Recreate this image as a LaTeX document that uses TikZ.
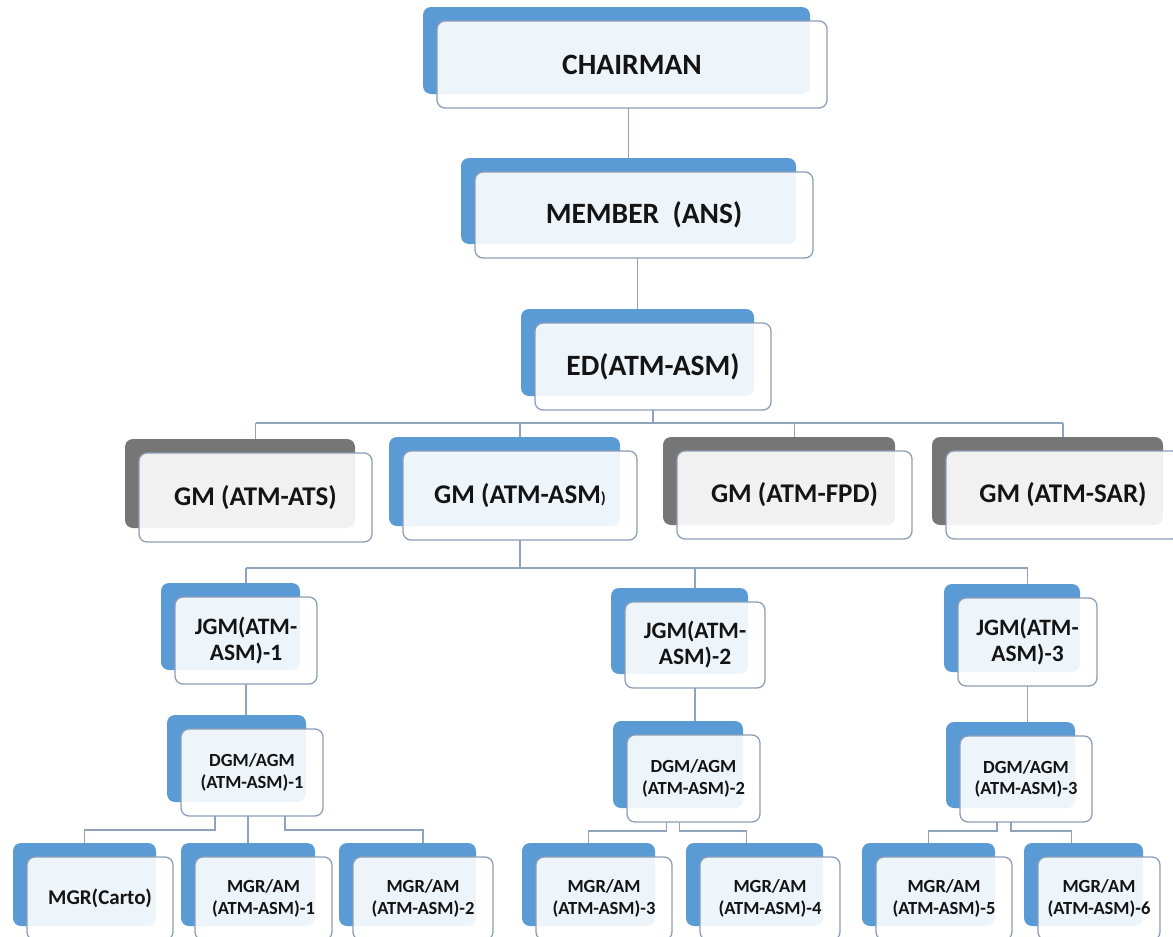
\documentclass[tikz,border=0pt]{standalone}
\usepackage{fontspec}
\setmainfont{Carlito}
\usetikzlibrary{calc}

\definecolor{cardblue}{HTML}{5B9BD5}
\definecolor{cardgray}{HTML}{767676}
\definecolor{rim}{HTML}{8C9DB5}
\definecolor{wire}{HTML}{8FA3BD}
\definecolor{ink}{HTML}{141414}

\tikzset{
  backbox/.style={rectangle, rounded corners=8pt, inner sep=0pt, outer sep=0pt, draw=none},
  frontbox/.style={rectangle, rounded corners=8pt, inner sep=0pt, outer sep=0pt,
    draw=rim, line width=1.3pt, fill=white, fill opacity=0.9, text opacity=1,
    text=ink, align=center},
  wireline/.style={draw=wire, line width=1.3pt},
  tbig/.style={font=\fontsize{29.5}{33}\selectfont\bfseries},
  tgm/.style={font=\fontsize{27}{31}\selectfont\bfseries},
  tjgm/.style={font=\fontsize{23.5}{26}\selectfont\bfseries},
  tcarto/.style={font=\fontsize{21}{24}\selectfont\bfseries},
  tsmall/.style={font=\fontsize{18.5}{21.5}\selectfont\bfseries},
}

% \card{name}{x1}{y1}{x2}{y2}{back colour}{text style}{label}
% draws a coloured back plate and the framed front box over it
\newcommand\card[8]{%
  \node[backbox, fill=#6, minimum width={(#4-#2-3)*1pt}, minimum height={(#5-#3)*1pt}]
    (#1B) at ({(#2+#4)/2-15.5},{(#3+#5)/2-14}) {};
  \node[frontbox, #7, minimum width={(#4-#2)*1pt}, minimum height={(#5-#3)*1pt}]
    (#1F) at ({(#2+#4)/2},{(#3+#5)/2}) {#8};
}

\begin{document}
\begin{tikzpicture}[x=1pt, y=-1pt]
\useasboundingbox (0,0) rectangle (1173,937);
\clip (0,0) rectangle (1173,937);

% ---- cards ----
\card{chair}{437}{21}{827}{108}{cardblue}{tbig}{CHAIRMAN}
\card{member}{475}{172}{813}{258}{cardblue}{tbig}{MEMBER~~(ANS)}
\card{ed}{535}{323}{771}{410}{cardblue}{tbig}{ED(ATM-ASM)}

\card{ats}{139}{453}{372}{542}{cardgray}{tgm}{GM (ATM-ATS)}
\card{asm}{403}{451}{637}{540}{cardblue}{tgm}{GM (ATM-ASM{\fontsize{16}{18}\selectfont)}}
\card{fpd}{677}{451}{912}{539}{cardgray}{tgm}{GM (ATM-FPD)}
\card{sar}{946}{451}{1180}{539}{cardgray}{tgm}{GM (ATM-SAR)}

\card{jgma}{175}{597}{317}{684}{cardblue}{tjgm}{JGM(ATM-\\ASM)-1}
\card{jgmb}{625}{602}{765}{688}{cardblue}{tjgm}{JGM(ATM-\\ASM)-2}
\card{jgmc}{958}{598}{1097}{686}{cardblue}{tjgm}{JGM(ATM-\\ASM)-3}

\card{dgma}{181}{729}{323}{816}{cardblue}{tsmall}{DGM/AGM\\(ATM-ASM)-1}
\card{dgmb}{627}{735}{760}{822}{cardblue}{tsmall}{DGM/AGM\\(ATM-ASM)-2}
\card{dgmc}{960}{736}{1092}{822}{cardblue}{tsmall}{DGM/AGM\\(ATM-ASM)-3}

\card{carto}{27}{857}{173}{940}{cardblue}{tcarto}{MGR(Carto)}
\card{ama}{195}{857}{332}{940}{cardblue}{tsmall}{MGR/AM\\(ATM-ASM)-1}
\card{amb}{353}{857}{493}{940}{cardblue}{tsmall}{MGR/AM\\(ATM-ASM)-2}
\card{amc}{536}{857}{672}{940}{cardblue}{tsmall}{MGR/AM\\(ATM-ASM)-3}
\card{amd}{700}{857}{840}{940}{cardblue}{tsmall}{MGR/AM\\(ATM-ASM)-4}
\card{ame}{876}{857}{1012}{940}{cardblue}{tsmall}{MGR/AM\\(ATM-ASM)-5}
\card{amf}{1038}{857}{1160}{940}{cardblue}{tsmall}{MGR/AM\\(ATM-ASM)-6}

% ---- connectors ----
\draw[wireline] (chairF.south -| memberB.north) -- (memberB.north);
\draw[wireline] (memberF.south -| edB.north) -- (edB.north);

% ED to the four GMs
\coordinate (busA) at ($(edF.south)+(0,13)$);
\draw[wireline] (edF.south) -- (busA);
\draw[wireline] (atsF.north |- busA) -- (sarF.north |- busA);
\foreach \g in {ats,asm,fpd,sar}
  \draw[wireline] (\g F.north |- busA) -- (\g F.north |- \g B.north);

% GM (ATM-ASM) to the three JGMs
\coordinate (busB) at ($(asmF.south)+(0,28)$);
\draw[wireline] (asmF.south) -- (busB);
\draw[wireline] (jgmaF.north |- busB) -- (jgmcF.north |- busB);
\foreach \j in {jgma,jgmb,jgmc}
  \draw[wireline] (\j F.north |- busB) -- (\j F.north |- \j B.north);

% JGM to DGM
\draw[wireline] (jgmaF.south) -- (jgmaF.south |- dgmaB.north);
\draw[wireline] (jgmbF.south) -- (jgmbF.south |- dgmbB.north);
\draw[wireline] (jgmcF.south) -- (jgmcF.south |- dgmcB.north);

% DGM to managers
\draw[wireline] ([xshift=-37pt]dgmaF.south) -- ++(0,14) -| (cartoB.north);
\draw[wireline] (dgmaF.south -| amaB.north) -- (amaB.north);
\draw[wireline] ([xshift=33pt]dgmaF.south) -- ++(0,14) -| (ambF.north |- ambB.north);

\draw[wireline] ([xshift=-27pt]dgmbF.south) -- ++(0,9) -| (amcB.north);
\draw[wireline] ([xshift=-14pt]dgmbF.south) -- ++(0,9) -| ([xshift=-8pt]amdB.north);

\draw[wireline] ([xshift=-29pt]dgmcF.south) -- ++(0,9) -| (ameB.north);
\draw[wireline] ([xshift=-15pt]dgmcF.south) -- ++(0,9) -| ([xshift=-12pt]amfB.north);
\end{tikzpicture}
\end{document}
